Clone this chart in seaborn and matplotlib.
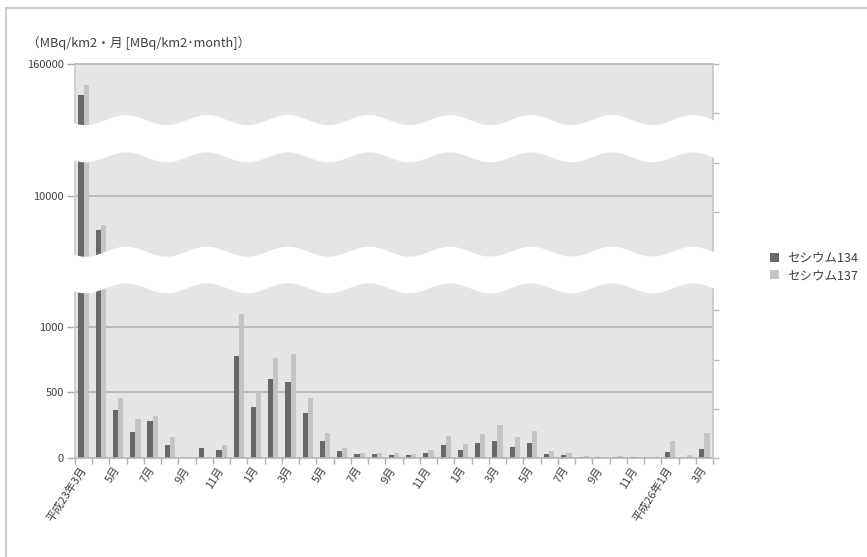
import numpy as np
import pandas as pd
import matplotlib
matplotlib.use("Agg")
import matplotlib.pyplot as plt
import seaborn as sns
from matplotlib.patches import Polygon
from matplotlib.lines import Line2D

# Monthly deposition, March 2011 (平成23年3月) to March 2014 (平成26年3月)
months = [
    "平成23年3月", "4月", "5月", "6月", "7月", "8月", "9月", "10月", "11月", "12月",
    "1月", "2月", "3月", "4月", "5月", "6月", "7月", "8月", "9月", "10月", "11月", "12月",
    "1月", "2月", "3月", "4月", "5月", "6月", "7月", "8月", "9月", "10月", "11月", "12月",
    "平成26年1月", "2月", "3月",
]
tick_labels = [
    "平成23年3月", "5月", "7月", "9月", "11月", "1月", "3月", "5月", "7月", "9月",
    "11月", "1月", "3月", "5月", "7月", "9月", "11月", "平成26年1月", "3月",
]
cs134 = [137000, 6630, 364, 201, 280, 102, 0, 76, 64, 779, 389, 603, 580, 341, 132,
         53, 31, 31, 25, 23, 41, 99, 64, 115, 132, 81, 115, 31, 23, 8, 10, 10, 5, 2,
         46, 0, 69]
cs137 = [144500, 7070, 458, 298, 318, 160, 0, 0, 97, 1099, 501, 766, 789, 458, 191,
         76, 38, 38, 38, 31, 64, 165, 107, 181, 249, 158, 209, 51, 36, 13, 10, 18, 8, 8,
         132, 25, 191]
series = ["セシウム134", "セシウム137"]

n = len(months)
df = pd.DataFrame({
    "idx": list(range(n)) * 2,
    "value": cs134 + cs137,
    "nuclide": [series[0]] * n + [series[1]] * n,
})

sns.set_theme(style="white")
plt.rcParams["font.family"] = ["Noto Sans CJK JP", "DejaVu Sans"]

W, H = 867, 557
fig = plt.figure(figsize=(W / 100, H / 100), dpi=100)
fig.patch.set_facecolor("white")


def rect(x0, y0, x1, y1):
    """Pixel box (top-left origin) -> figure fraction [l, b, w, h]."""
    return [x0 / W, 1 - y1 / H, (x1 - x0) / W, (y1 - y0) / H]


PLOT_L, PLOT_R = 75, 713
BG = "#e5e5e6"
GRID = "#b4b4b4"
TXT = "#404040"
palette = {series[0]: "#686868", series[1]: "#c4c4c4"}

# Three stacked segments of one broken value axis: (top px, bottom px, ylim, ticks)
segments = [
    (64, 138.75, (104000, 160000), [160000]),
    (138.75, 270, (2600, 15725), [10000]),
    (270, 458, (0, 1433), [0, 500, 1000]),
]

axes = []
for k, (top, bot, lim, ticks) in enumerate(segments):
    ax = fig.add_axes(rect(PLOT_L, top, PLOT_R, bot))
    sns.barplot(data=df, x="idx", y="value", hue="nuclide", palette=palette,
                width=0.6, errorbar=None, linewidth=0, ax=ax,
                legend=(k == len(segments) - 1))
    ax.set_facecolor(BG)
    ax.set_ylim(*lim)
    ax.set_xlim(-0.5, n - 0.5)
    ax.set_xlabel("")
    ax.set_ylabel("")
    ax.set_yticks(ticks)
    ax.set_yticklabels([str(t) for t in ticks])
    ax.tick_params(axis="y", left=True, length=6, width=1, color="#a8a8a8",
                   labelsize=8, labelcolor=TXT, pad=2)
    for t in ticks:
        if lim[0] < t < lim[1]:
            ax.axhline(t, color=GRID, lw=1.2, zorder=0.5)
    for s in ("top", "right", "bottom"):
        ax.spines[s].set_visible(False)
    ax.spines["left"].set_color("#cdcdcd")
    ax.set_axisbelow(True)
    axes.append(ax)

# top edge gridline (160000)
axes[0].spines["top"].set_visible(True)
axes[0].spines["top"].set_color(GRID)
axes[0].spines["top"].set_linewidth(1.2)
axes[0].set_xticks([])
axes[1].set_xticks([])

# bottom segment: baseline, category-boundary ticks and month labels
axb = axes[2]
axb.spines["bottom"].set_visible(True)
axb.spines["bottom"].set_color(GRID)
axb.spines["bottom"].set_linewidth(1.2)
axb.set_xticks(range(0, n, 2))
axb.set_xticklabels(tick_labels, rotation=57, ha="right", va="center",
                    rotation_mode="anchor", fontsize=8, color=TXT)
axb.set_xticks(np.arange(-0.5, n, 1), minor=True)
axb.tick_params(axis="x", which="major", bottom=True, length=0, pad=7)
axb.tick_params(axis="x", which="minor", bottom=True, length=4, width=1,
                color="#b0b0b0")

handles, labels = axb.get_legend_handles_labels()
axb.get_legend().remove()

# right-hand secondary scale (ticks only)
axr = fig.add_axes(rect(PLOT_L, 64, PLOT_R, 458), zorder=3)
axr.patch.set_alpha(0)
axr.set_ylim(0, 8)
axr.set_yticks(range(9))
axr.set_xticks([])
axr.tick_params(axis="y", left=False, right=True, labelleft=False,
                labelright=False, length=4, width=1, color="#b8b8b8")
for s in ("top", "bottom", "left"):
    axr.spines[s].set_visible(False)
axr.spines["right"].set_color("#c8c8c8")

# wavy white break bands across the value axis
xs = np.linspace(PLOT_L - 1, PLOT_R + 8, 400)
period, crest_x, amp = 81.0, 126.0, 5.0
for center, half in ((138.75, 18.6), (270.0, 18.3)):
    yc = center - amp * np.cos(2 * np.pi * (xs - crest_x) / period)
    top_edge = yc - half
    bot_edge = yc + half
    px = np.concatenate([xs, xs[::-1]])
    py = np.concatenate([top_edge, bot_edge[::-1]])
    poly = Polygon(np.column_stack([px / W, 1 - py / H]), closed=True,
                   transform=fig.transFigure, facecolor="white",
                   edgecolor="none", zorder=10)
    fig.add_artist(poly)

fig.legend(handles, labels, loc="center left",
           bbox_to_anchor=(770 / W, 1 - 267 / H), frameon=False,
           borderpad=0, borderaxespad=0,
           fontsize=9, labelcolor=TXT, handlelength=0.7, handleheight=0.7,
           handletextpad=0.7, labelspacing=0.35)

fig.text(27 / W, 1 - 43 / H, "（MBq/km2・月 [MBq/km2･month]）",
         ha="left", va="center", fontsize=9.2, color=TXT)

# outer frame (top and left edges)
fig.add_artist(Line2D([6 / W, 1], [1 - 8 / H] * 2, transform=fig.transFigure,
                      color="#cccccc", lw=1.5))
fig.add_artist(Line2D([6 / W] * 2, [0, 1 - 8 / H], transform=fig.transFigure,
                      color="#cccccc", lw=1.5))

fig.savefig("out.png", dpi=100)
